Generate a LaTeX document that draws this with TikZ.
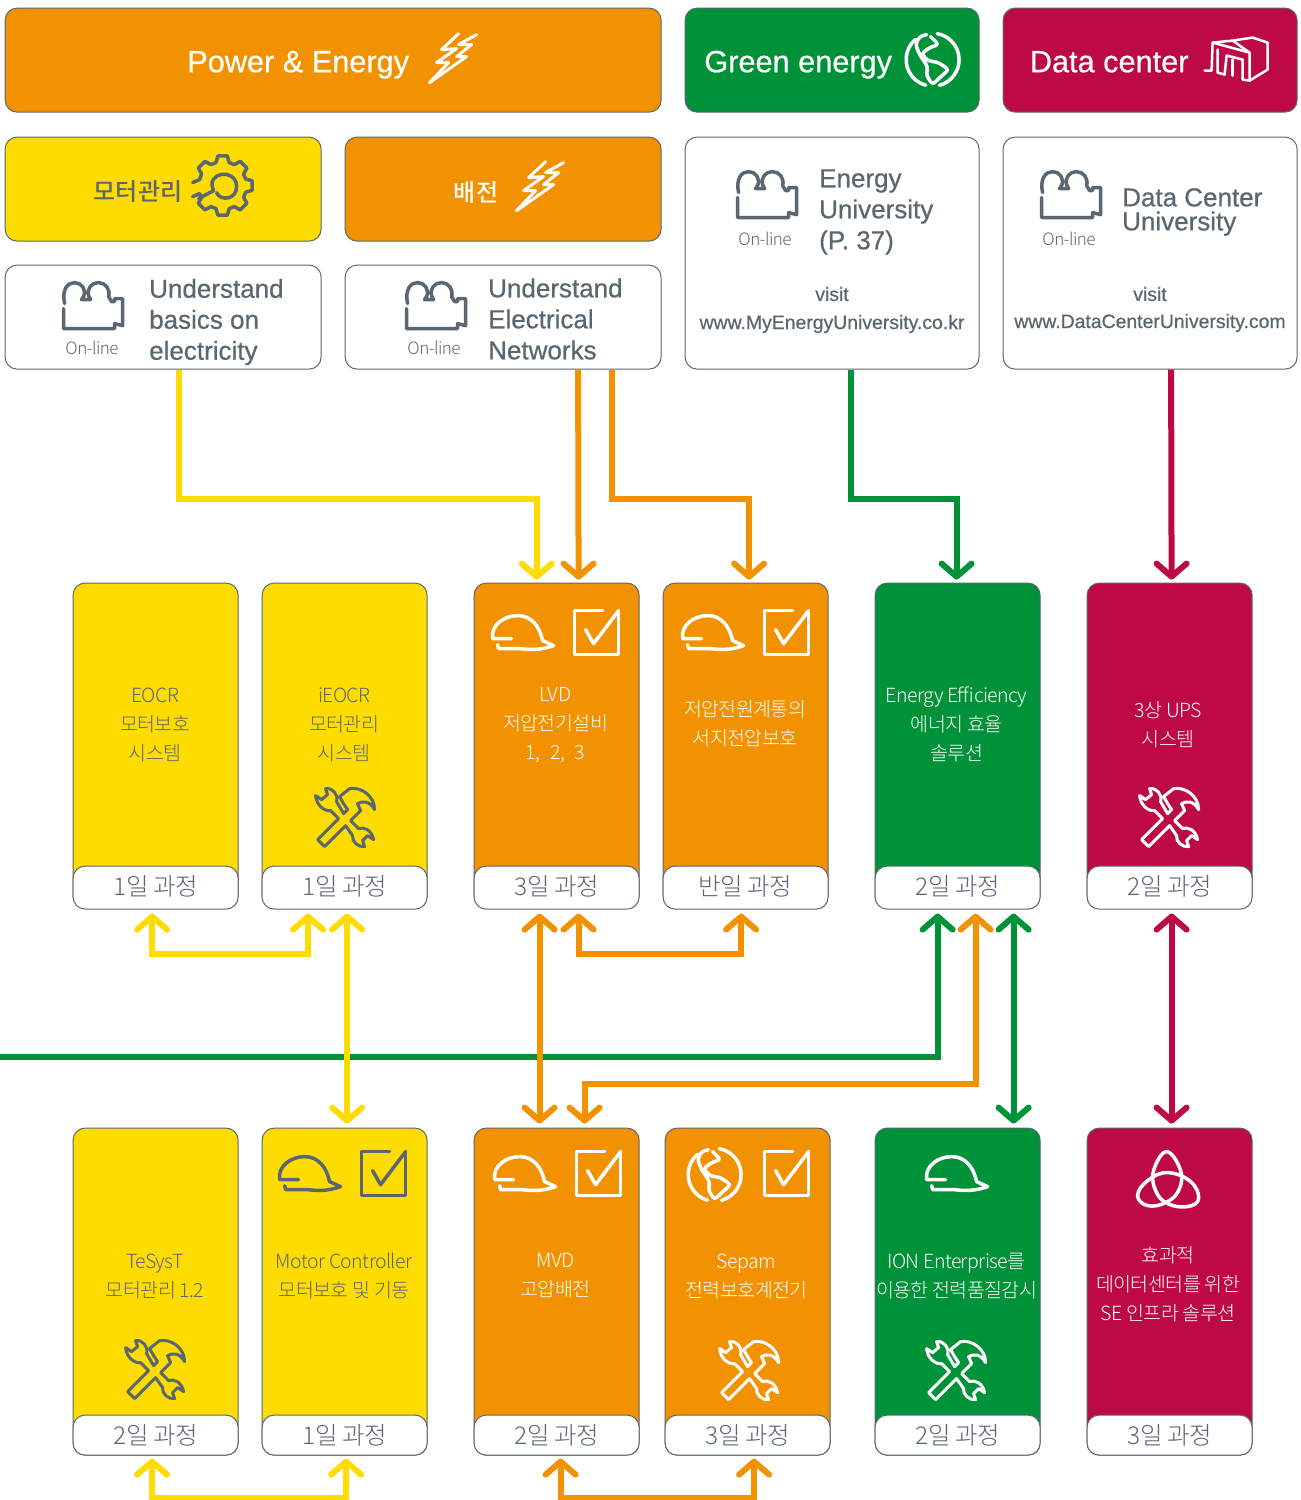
\documentclass[tikz,border=0pt]{standalone}
\usepackage{fontspec}
\usetikzlibrary{arrows.meta}
\setmainfont[RawFeature={embolden=0.6}]{Liberation Sans}
\newfontfamily\krfont[LetterSpace=-3]{Noto Sans CJK KR Light}
\newfontfamily\krbold{Noto Sans CJK KR Medium}

\definecolor{egorange}{HTML}{F39200}
\definecolor{egyellow}{HTML}{FFDC00}
\definecolor{eggreen}{HTML}{009239}
\definecolor{egred}{HTML}{BD0A47}
\definecolor{eggrey}{HTML}{5A6670}

\tikzset{
    box/.style={draw=eggrey, line width=1pt, rounded corners=12pt, anchor=north west, inner sep=0pt},
    orangebox/.style={box, fill=egorange},
    yellowbox/.style={box, fill=egyellow},
    greenbox/.style={box, fill=eggreen},
    redbox/.style={box, fill=egred},
    whitebox/.style={box, fill=white},
    daybox/.style={whitebox, minimum width=165pt, text=eggrey, font=\krfont\fontsize{24.5}{24.5}\selectfont},
    headtext/.style={text=white, anchor=base, font=\fontsize{30.7}{30.7}\selectfont},
    sectext/.style={font=\krbold\fontsize{24}{24}\selectfont},
    coursetext/.style={text=eggrey, align=left, anchor=west, inner sep=0pt, font=\fontsize{26}{31}\selectfont},
    sitetext/.style={text=eggrey, font=\fontsize{19.4}{19.4}\selectfont},
    onlinetext/.style={text=eggrey, font=\krfont\fontsize{17}{17}\selectfont},
    cardtext/.style={align=center, font=\krfont\fontsize{19.5}{29}\selectfont},
    iconwhite/.style={color=white},
    icondark/.style={color=eggrey},
    iconline/.style={line width=3.5pt, line cap=round, line join=round},
    >={Straight Barb[round, length=13pt, width=30pt]},
    flow/.style={line width=6pt},
    yellowflow/.style={flow, draw=egyellow},
    orangeflow/.style={flow, draw=egorange},
    greenflow/.style={flow, draw=eggreen},
    redflow/.style={flow, draw=egred},
    hat/.pic={
        \draw[iconline] (22,24) -- (3,24) .. controls (1,10) and (15,1) .. (28,1)
            .. controls (42,1) and (50,12) .. (53,26) -- (64,31)
            .. controls (50,36) and (40,35) .. (30,34) -- (9,34) -- (8,30);
    },
    tickbox/.pic={
        \draw[iconline] (30,2) -- (2,2) -- (2,46) -- (46,46) -- (46,2);
        \draw[iconline] (13,21) -- (21,35) -- (46,2);
    },
    tools/.pic={
        \draw[iconline, line width=3pt] (29,27) -- (33,23) -- (29,17) -- (25,10) -- (35,2)
            .. controls (46,0) and (60,9) .. (60,23) .. controls (55,14) and (48,14) .. (43,17)
            -- (46,24) -- (36,34) -- (44,42) .. controls (49,40) and (57,43) .. (59,53)
            -- (53,49) -- (48,54) -- (50,60) .. controls (44,61) and (37,55) .. (38,49)
            -- (31,39) -- (10,60) -- (3,53) -- (24,32) -- (16,24)
            .. controls (10,25) and (2,19) .. (1,9) -- (7,13) -- (13,8) -- (11,2)
            .. controls (18,1) and (24,8) .. (22,15) -- cycle;
    },
    camera/.pic={
        \draw[iconline] (2,22) .. controls (-1,8) and (5,1) .. (12,1)
            .. controls (19,1) and (24,8) .. (21,15) -- (19,18) -- (28,18) -- (26,14)
            .. controls (24,7) and (29,1) .. (36,1) .. controls (43,1) and (48,8) .. (46,15)
            -- (49,20) -- (52,20) -- (52,17) -- (60,17) -- (60,44) -- (52,42) -- (52,47) -- (1,47) -- (1,27);
    },
    bolt/.pic={
        \draw[iconline, line width=3pt] (29,1) -- (12,17) -- (27,16) -- (7,30) -- (19,30) -- (0,50);
        \draw[iconline, line width=3pt] (47,2) -- (29,12) -- (42,12) -- (27,24) -- (37,24) -- (0,50);
    },
    globe/.pic={
        \draw[iconline] (4.6,-26) arc[start angle=80, end angle=-75, radius=26.5pt];
        \draw[iconline] (-17,-20.3) arc[start angle=130, end angle=255, radius=26.5pt];
        \draw[iconline, rounded corners=3pt] (-6,-25) -- (-13,-23) -- (-17,-15) -- (-13,-5) -- (-5,7) -- (-6,16) -- (0,25)
            -- (4,21) -- (16,10) -- (6,3) -- (-5,1) -- (-11,-6) -- (-3,-12) -- (6,-15) -- (-2,-23);
    },
    gear/.pic={
        \draw[iconline] (-30,-3) -- (-23,-6) \foreach \a in {-135,-90,-45,0,45,90,135} {
            -- (\a-16:24) -- (\a-9:30) -- (\a+9:30) -- (\a+16:24)
        } -- (-23,8) -- (-30,11);
        \draw[iconline] (-24,13) -- (-9,5) .. controls (-18,-14) and (14,-18) .. (14,1)
            .. controls (14,14) and (-2,16) .. (-6,7);
    },
    racks/.pic={
        \draw[iconline, line width=2.5pt] (0,33) -- (7,33) -- (8,5) -- (28,3) -- (48,0) -- (63,5) -- (63,32) -- (45,43) -- (45,15) -- (28,3);
        \draw[iconline, line width=2.5pt] (8,5) -- (45,15);
        \draw[iconline, line width=2.5pt] (45,43) -- (38,42) -- (38,22) -- (22,18) -- (20,37) -- (13,35) -- (13,12);
        \draw[iconline, line width=2.5pt] (28,22) -- (28,38);
    },
    knot/.pic={
        \draw[iconline] plot[smooth cycle, tension=0.7] coordinates {(-29,17) (-19,2) (1,-6) (24,3) (32,20) (21,28) (1,25) (-11,12) (-13,-8) (0,-27) (14,-8) (12,12) (-1,24) (-19,27)};
    }
}

\begin{document}
\begin{tikzpicture}[x=1pt, y=-1pt]

    \useasboundingbox (0.4,0.4) rectangle (1301.4,1500.4);


    \node[orangebox, minimum width=656pt, minimum height=104pt] (power) at (5,8) {};

    \node[greenbox, minimum width=294pt, minimum height=104pt] (greenhead) at (685,8) {};

    \node[redbox, minimum width=294pt, minimum height=104pt] (datahead) at (1003,8) {};

    \node[headtext] (powertext) at (298.6,72.6) {Power \& Energy};

    \node[headtext] (greentext) at (798.6,72.6) {Green energy};

    \node[headtext] (datatext) at (1109.6,72.6) {Data center};

    \pic[iconwhite] at (430,33) {bolt};

    \pic[iconwhite] at (933,60) {globe};

    \pic[iconwhite] at (1205,38) {racks};


    \node[yellowbox, minimum width=316pt, minimum height=104pt] (motorsec) at (5,137) {};

    \node[orangebox, minimum width=316pt, minimum height=104pt] (distsec) at (345,137) {};

    \node[sectext, text=eggrey] (motorsectext) at (138.4,192.4) {모터관리};

    \node[sectext, text=white] (distsectext) at (476.4,192.4) {배전};

    \pic[icondark] at (223,186) {gear};

    \pic[iconwhite] at (517,161) {bolt};


    \node[whitebox, minimum width=316pt, minimum height=104pt] (basics) at (5,265) {};

    \node[whitebox, minimum width=316pt, minimum height=104pt] (networks) at (345,265) {};

    \node[whitebox, minimum width=294pt, minimum height=232pt] (energyweb) at (685,137) {};

    \node[whitebox, minimum width=294pt, minimum height=232pt] (dataweb) at (1003,137) {};

    \node[coursetext] (basicstext) at (149.4,322.4) {Understand\\basics on\\electricity};

    \node[coursetext] (networkstext) at (488.4,319.4) {Understand\\Electrical\\Networks};

    \node[coursetext] (energytext) at (819.4,212.4) {Energy\\University\\(P. 37)};

    \node[coursetext, font=\fontsize{26}{24}\selectfont] (datatext2) at (1122.4,212.4) {Data Center\\University};

    \node[sitetext] (energyvisit) at (832.4,294.4) {visit};

    \node[sitetext] (energysite) at (832.4,324.4) {www.MyEnergyUniversity.co.kr};

    \node[sitetext] (datavisit) at (1150.4,294.4) {visit};

    \node[sitetext] (datasite) at (1150.4,323.4) {www.DataCenterUniversity.com};

    \pic[icondark] at (63,282) {camera};

    \pic[icondark] at (406,282) {camera};

    \pic[icondark] at (737,171) {camera};

    \pic[icondark] at (1041,171) {camera};

    \node[onlinetext] (online1) at (92.4,348.4) {On-line};

    \node[onlinetext] (online2) at (434.4,348.4) {On-line};

    \node[onlinetext] (online3) at (765.4,239.4) {On-line};

    \node[onlinetext] (online4) at (1069.4,239.4) {On-line};


    \node[yellowbox, minimum width=165pt, minimum height=325pt] (eocr) at (73,583) {};

    \node[yellowbox, minimum width=165pt, minimum height=325pt] (ieocr) at (262,583) {};

    \node[orangebox, minimum width=165pt, minimum height=325pt] (lvd) at (474,583) {};

    \node[orangebox, minimum width=165pt, minimum height=325pt] (surge) at (663,583) {};

    \node[greenbox, minimum width=165pt, minimum height=325pt] (eff) at (875,583) {};

    \node[redbox, minimum width=165pt, minimum height=325pt] (ups) at (1087,583) {};

    \node[daybox, minimum height=43pt, text depth=5pt] (eocrday) at (73,866) {1일 과정};

    \node[daybox, minimum height=43pt, text depth=5pt] (ieocrday) at (262,866) {1일 과정};

    \node[daybox, minimum height=43pt, text depth=5pt] (lvdday) at (474,866) {3일 과정};

    \node[daybox, minimum height=43pt, text depth=5pt] (surgeday) at (663,866) {반일 과정};

    \node[daybox, minimum height=43pt, text depth=5pt] (effday) at (875,866) {2일 과정};

    \node[daybox, minimum height=43pt, text depth=5pt] (upsday) at (1087,866) {2일 과정};

    \node[cardtext, text=eggrey] (eocrtext) at (155.5,725.4) {EOCR\\모터보호\\시스템};

    \node[cardtext, text=eggrey] (ieocrtext) at (344.5,725.4) {iEOCR\\모터관리\\시스템};

    \node[cardtext, text=white] (lvdtext) at (556,725.4) {LVD\\저압전기설비\\1,\,\,\,2,\,\,\,3};

    \node[cardtext, text=white] (surgetext) at (745.5,724.4) {저압전원계통의\\서지전압보호};

    \node[cardtext, text=white] (efftext) at (957,724.6) {Energy Efficiency\\에너지 효율\\솔루션};

    \node[cardtext, text=white] (upstext) at (1168.5,724.6) {3상 UPS\\시스템};

    \pic[iconwhite] at (490,615) {hat};

    \pic[iconwhite] at (573,609) {tickbox};

    \pic[iconwhite] at (680,615) {hat};

    \pic[iconwhite] at (763,609) {tickbox};

    \pic[icondark] at (315,787) {tools};

    \pic[iconwhite] at (1139,787) {tools};


    \node[yellowbox, minimum width=165pt, minimum height=327pt] (tesys) at (73,1128) {};

    \node[yellowbox, minimum width=165pt, minimum height=327pt] (motorctl) at (262,1128) {};

    \node[orangebox, minimum width=165pt, minimum height=327pt] (mvd) at (474,1128) {};

    \node[orangebox, minimum width=165pt, minimum height=327pt] (sepam) at (665,1128) {};

    \node[greenbox, minimum width=165pt, minimum height=327pt] (ion) at (875,1128) {};

    \node[redbox, minimum width=165pt, minimum height=327pt] (infra) at (1087,1128) {};

    \node[daybox, minimum height=40pt] (tesysday) at (73,1415) {2일 과정};

    \node[daybox, minimum height=40pt] (motorday) at (262,1415) {1일 과정};

    \node[daybox, minimum height=40pt] (mvdday) at (474,1415) {2일 과정};

    \node[daybox, minimum height=40pt] (sepamday) at (665,1415) {3일 과정};

    \node[daybox, minimum height=40pt] (ionday) at (875,1415) {2일 과정};

    \node[daybox, minimum height=40pt] (infraday) at (1087,1415) {3일 과정};

    \node[cardtext, text=eggrey] (tesystext) at (155.5,1276.4) {TeSysT\\모터관리 1.2};

    \node[cardtext, text=eggrey] (motorctltext) at (344.5,1276.4) {Motor Controller\\모터보호 및 기동};

    \node[cardtext, text=white] (mvdtext) at (556,1276.4) {MVD\\고압배전};

    \node[cardtext, text=white] (sepamtext) at (747,1276.4) {Sepam\\전력보호계전기};

    \node[cardtext, text=white] (iontext) at (957,1276.4) {ION Enterprise를\\이용한 전력품질감시};

    \node[cardtext, text=white] (infratext) at (1168.5,1284.6) {효과적\\데이터센터를 위한\\SE 인프라 솔루션};

    \pic[icondark] at (277,1156) {hat};

    \pic[icondark] at (360,1150) {tickbox};

    \pic[iconwhite] at (492,1156) {hat};

    \pic[iconwhite] at (575,1150) {tickbox};

    \pic[iconwhite] at (715,1175) {globe};

    \pic[iconwhite] at (763,1150) {tickbox};

    \pic[iconwhite] at (924,1156) {hat};

    \pic[iconwhite] at (1167,1179) {knot};

    \pic[icondark] at (125,1339) {tools};

    \pic[iconwhite] at (719,1340) {tools};

    \pic[iconwhite] at (926,1340) {tools};


    \coordinate (greenin) at (0,1057);

    \draw[greenflow, ->, shorten >=4pt] (greenin) -| ([xshift=-20pt]effday.south);

    \draw[greenflow, <->, shorten <=4pt, shorten >=4pt] ([xshift=56pt]effday.south) -- ([xshift=56pt]ion.north);

    \draw[greenflow, ->, shorten >=3pt] ([xshift=19pt]energyweb.south) -- ++(0,129) -| ([xshift=-1pt]eff.north);

    \draw[yellowflow, ->, shorten >=3pt] ([xshift=16pt]basics.south) -- ++(0,129) -| ([xshift=-20pt]lvd.north);

    \draw[orangeflow, ->, shorten >=3pt] ([xshift=75pt]networks.south) -- ([xshift=22pt]lvd.north);

    \draw[orangeflow, ->, shorten >=3pt] ([xshift=109pt]networks.south) -- ++(0,129) -| ([xshift=3.5pt]surge.north);

    \draw[redflow, ->, shorten >=3pt] ([xshift=21pt]dataweb.south) -- ([xshift=2pt]ups.north);

    \draw[yellowflow, <->, shorten <=4pt, shorten >=4pt] ([xshift=-3.5pt]eocrday.south) -- ++(0,44) -| ([xshift=-36.5pt]ieocrday.south);

    \draw[yellowflow, <->, shorten <=4pt, shorten >=4pt] ([xshift=2.5pt]ieocrday.south) -- ([xshift=2.5pt]motorctl.north);

    \draw[orangeflow, <->, shorten <=4pt, shorten >=4pt] ([xshift=-17pt]lvdday.south) -- ([xshift=-17pt]mvd.north);

    \draw[orangeflow, <->, shorten <=4pt, shorten >=4pt] ([xshift=22pt]lvdday.south) -- ++(0,44) -| ([xshift=-4.5pt]surgeday.south);

    \draw[orangeflow, <->, shorten <=4pt, shorten >=4pt] ([xshift=18pt]effday.south) -- ++(0,174) -| ([xshift=28pt]mvd.north);

    \draw[redflow, <->, shorten <=4pt, shorten >=4pt] ([xshift=2pt]upsday.south) -- ([xshift=2pt]infra.north);

    \draw[yellowflow, <->, shorten <=3pt, shorten >=3pt] ([xshift=-3.5pt]tesysday.south) -- ++(0,42) -| ([xshift=1.5pt]motorday.south);

    \draw[orangeflow, <->, shorten <=3pt, shorten >=3pt] ([xshift=4pt]mvdday.south) -- ++(0,42) -| ([xshift=6.5pt]sepamday.south);

\end{tikzpicture}
\end{document}
